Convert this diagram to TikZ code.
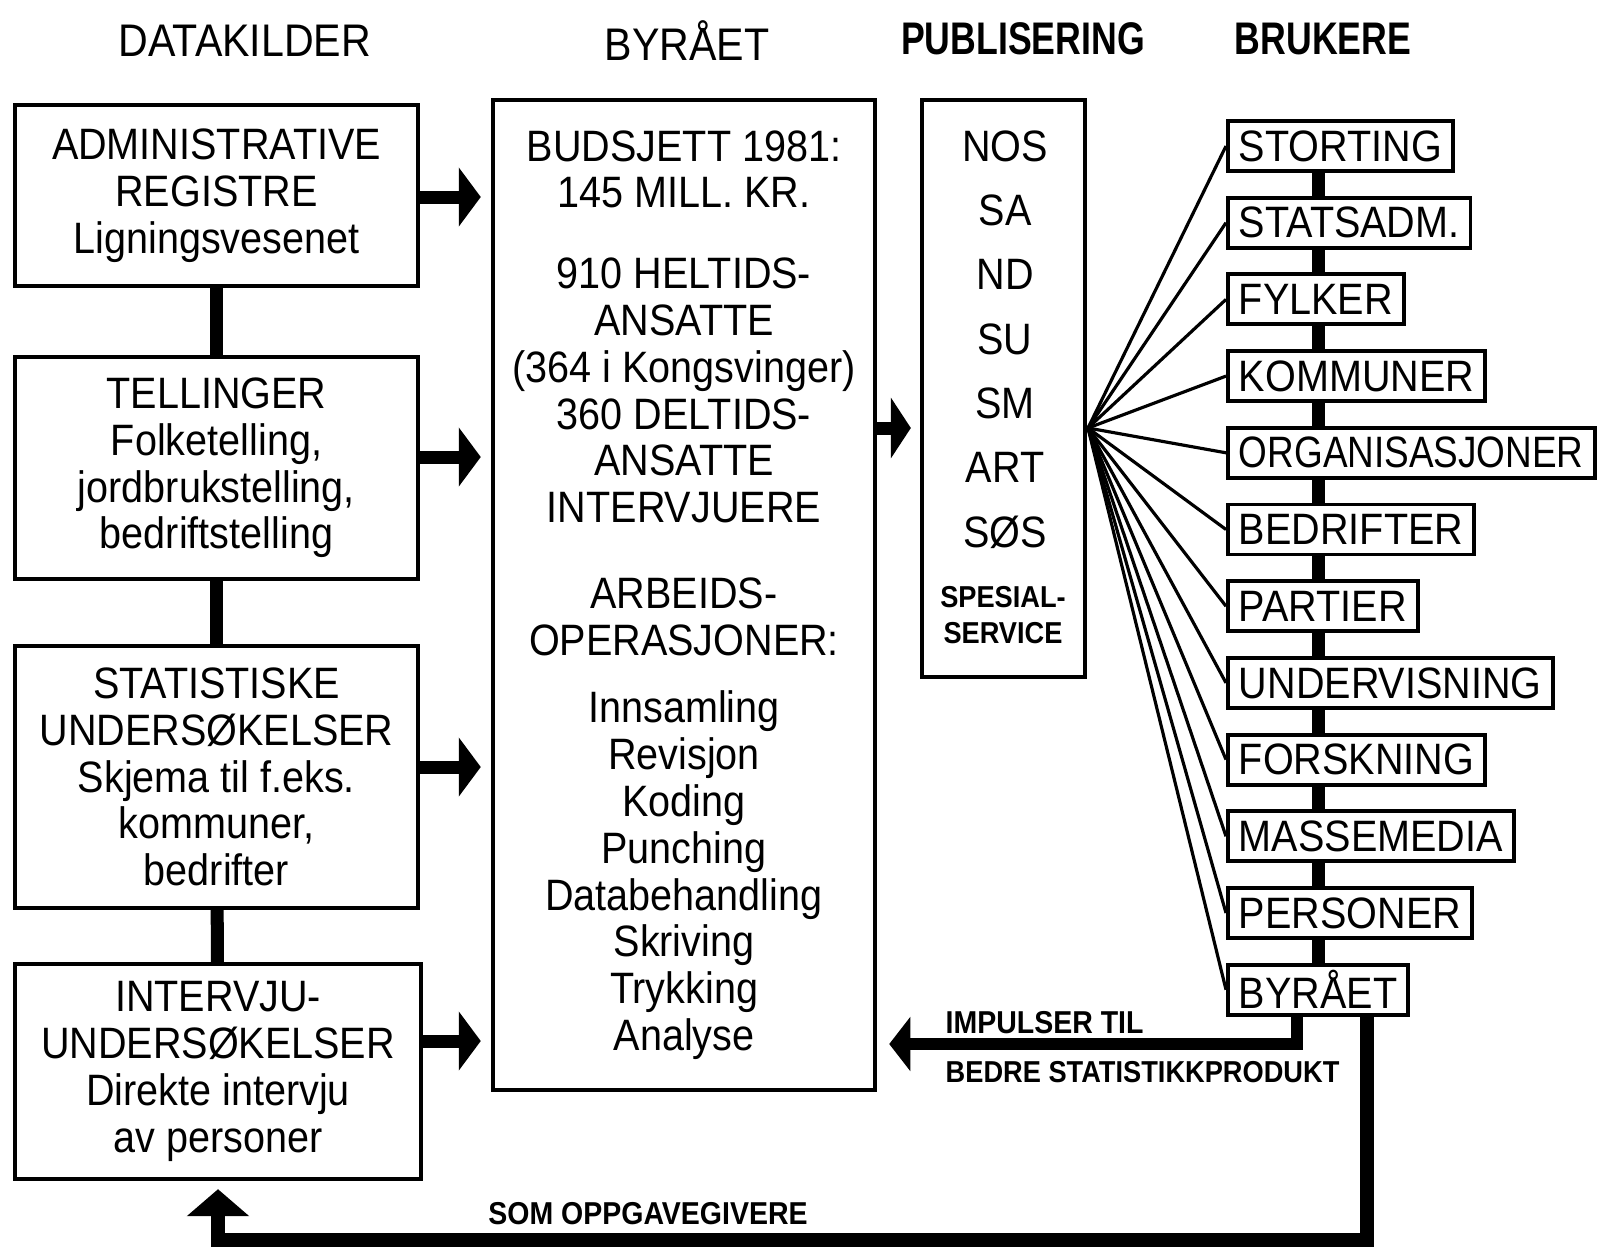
\documentclass[tikz,border=0pt]{standalone}
\usepackage{fontspec}
\setmainfont{Liberation Sans}[FakeStretch=0.9]
\newfontfamily\headfont{Liberation Sans}[FakeStretch=0.78]
\newfontfamily\smalfont{Liberation Sans}[FakeStretch=0.84]
\usetikzlibrary{arrows.meta}
\usetikzlibrary{positioning}

\tikzset{
  kilde/.style={draw, line width=1.2pt, minimum width=4.03cm, align=center},
  bruker/.style={draw, fill=white, line width=1.1pt, anchor=west, minimum height=0.5cm, inner xsep=1.1mm, inner ysep=0pt},
  tykk/.style={line width=3.7pt},
  tynn/.style={line width=0.9pt},
  blokkpil/.style={line width=3.7pt, -{Triangle[length=2.2mm, width=5.8mm]}},
  merk/.style={font=\fontsize{9}{10}\selectfont\bfseries, inner sep=0pt},
}

\begin{document}
\begin{tikzpicture}[x=0.01cm, y=-0.01cm, font=\fontsize{12.5}{13.3}\selectfont]
            \useasboundingbox (0,0) rectangle (1600,1248);

            \node[font=\fontsize{13}{15}\selectfont] (hkilde) at (245,41) {DATAKILDER};
            \node[font=\fontsize{13}{15}\selectfont] (hbyraa) at (687,41) {BYRÅET};
            \node[font=\headfont\bfseries\fontsize{13}{15}\selectfont] (hpubl) at (1023,39) {PUBLISERING};
            \node[font=\headfont\bfseries\fontsize{13}{15}\selectfont] (hbruk) at (1323,39) {BRUKERE};

            \node[kilde, minimum height=1.81cm] (admin) at (216.5,195.5) {ADMINISTRATIVE\\REGISTRE\\Ligningsvesenet};
            \node[kilde, minimum height=2.22cm] (telling) at (216.5,468) {TELLINGER\\Folketelling,\\jordbrukstelling,\\bedriftstelling};
            \node[kilde, minimum height=2.62cm] (unders) at (216.5,777) {STATISTISKE\\UNDERSØKELSER\\Skjema til f.eks.\\kommuner,\\bedrifter};
            \node[kilde, minimum width=4.06cm, minimum height=2.15cm] (intervju) at (218,1071.5) {INTERVJU-\\UNDERSØKELSER\\Direkte intervju\\av personer};

            \draw[tykk] (admin) -- (telling);
            \draw[tykk] (telling) -- (unders);
            \draw[tykk] (unders) -- (intervju);

            \node[draw, line width=1.2pt, minimum width=3.82cm, minimum height=9.9cm, align=center] (byraa) at (684,595)
              {BUDSJETT 1981:\\145 MILL. KR.\\[0.34cm]
               910 HELTIDS-\\ANSATTE\\(364 i Kongsvinger)\\360 DELTIDS-\\ANSATTE\\INTERVJUERE\\[0.39cm]
               ARBEIDS-\\OPERASJONER:\\[0.21cm]
               Innsamling\\Revisjon\\Koding\\Punching\\Databehandling\\Skriving\\Trykking\\Analyse};

            \draw[blokkpil, shorten >=1mm] (admin.east |- 0,197) -- (byraa.west |- 0,197);
            \draw[blokkpil, shorten >=1mm] (telling.east |- 0,457) -- (byraa.west |- 0,457);
            \draw[blokkpil, shorten >=1mm] (unders.east |- 0,767) -- (byraa.west |- 0,767);
            \draw[blokkpil, shorten >=1mm] (intervju.east |- 0,1041) -- (byraa.west |- 0,1041);

            \node[draw, line width=1.2pt, minimum width=1.63cm, minimum height=5.77cm] (publ) at (1003.5,388.5) {};
            \node[align=center, font=\fontsize{12.5}{18.3}\selectfont] (serier) at (1005,339.5) {NOS\\SA\\ND\\SU\\SM\\ART\\SØS};
            \node[align=center, font=\fontsize{8.6}{10.2}\selectfont\bfseries] (spesial) at (1003,615) {SPESIAL-\\SERVICE};

            \draw[blokkpil, -{Triangle[length=2mm, width=6mm]}, shorten >=0.9mm] (byraa.east |- 0,428) -- (publ.west |- 0,428);

            \foreach \navn/\tekst [count=\i from 0] in {stor/STORTING, stat/STATSADM., fylk/FYLKER, komm/KOMMUNER, org/{\smalfont ORGANISASJONER}, bedr/BEDRIFTER, part/PARTIER, underv/UNDERVISNING, forsk/FORSKNING, masse/MASSEMEDIA, pers/PERSONER, byr/BYRÅET}
              \node[bruker] (\navn) at (1226,{146+76.7*\i}) {\tekst};

            \coordinate (bar) at (1318,0);
            \foreach \a/\b in {stor/stat, stat/fylk, fylk/komm, komm/org, org/bedr, bedr/part, part/underv, underv/forsk, forsk/masse, masse/pers, pers/byr}
              \draw[tykk] (\a.south -| bar) -- (\b.north -| bar);

            \coordinate (hub) at (1088,428);
            \foreach \navn in {stor, stat, fylk, komm, org, bedr, part, underv, forsk, masse, pers, byr}
              \draw[tynn] (hub) -- (\navn.west);

            \draw[line width=3.4pt, -{Triangle[length=2.1mm, width=5.3mm]}, shorten >=1.2mm] (byr.south -| 1297,0) |- (byraa.east |- 0,1044);
            \node[merk, anchor=base west] (impuls) at (945,1033) {IMPULSER TIL};
            \node[merk, anchor=base west, font=\fontsize{8.6}{10}\selectfont\bfseries] (bedre) at (945,1082) {BEDRE STATISTIKKPRODUKT};

            \coordinate (bunn) at (1367,1240);
            \draw[line width=4pt, -{Triangle[length=2.7mm, width=6.1mm]}, shorten >=0.8mm] (byr.south -| bunn) -- (bunn) -| (intervju.south);
            \node[merk, anchor=base] (oppgave) at (648,1224) {SOM OPPGAVEGIVERE};
        \end{tikzpicture}
\end{document}
